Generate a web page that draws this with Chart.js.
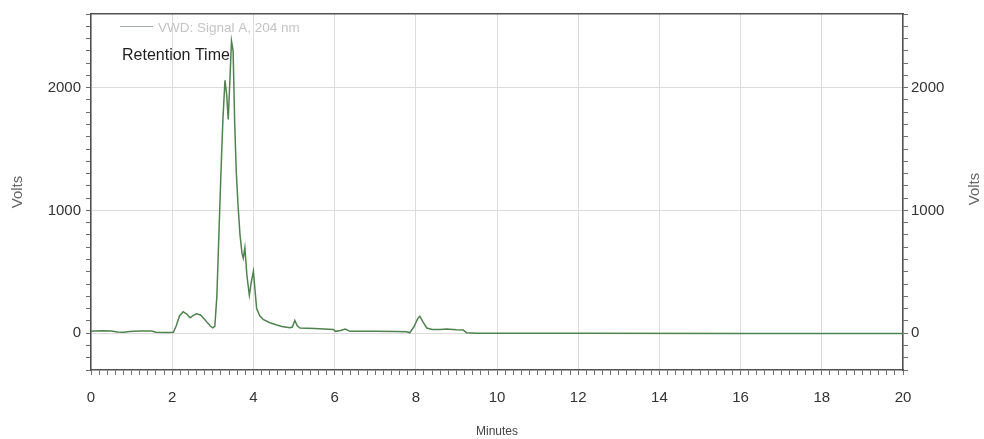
<!DOCTYPE html>
<html>
<head>
<meta charset="utf-8">
<script src="https://cdn.jsdelivr.net/npm/chart.js@4.4.1/dist/chart.umd.min.js"></script>
<style>
html, body { margin: 0; padding: 0; background: #fff; }
canvas { display: block; }
</style>
</head>
<body>
<canvas id="chromChart" width="984" height="439"></canvas>
<script>
// retention time (min) and detector signal
var minutes = [0, 0.1, 0.3, 0.5, 0.65, 0.8, 0.95, 1.2, 1.5, 1.6,
  1.9, 2.03, 2.1, 2.18, 2.27, 2.35, 2.44, 2.52, 2.6, 2.7,
  2.8, 2.87, 2.94, 3.0, 3.05, 3.1, 3.15, 3.2, 3.25, 3.3,
  3.34, 3.38, 3.42, 3.46, 3.5, 3.54, 3.58, 3.62, 3.67, 3.72,
  3.75, 3.79, 3.84, 3.9, 3.95, 4.0, 4.04, 4.08, 4.16, 4.25,
  4.41, 4.56, 4.7, 4.9, 4.96, 5.02, 5.08, 5.15, 5.5, 5.97,
  6.02, 6.15, 6.26, 6.38, 7.0, 7.5, 7.78, 7.85, 7.95, 8.05,
  8.1, 8.18, 8.27, 8.4, 8.6, 8.76, 9.0, 9.17, 9.25, 9.5,
  12, 16, 20]
var volts = [15, 18, 20, 18, 10, 8, 14, 18, 17, 8,
  5, 8, 60, 140, 175, 158, 125, 145, 157, 148,
  112, 84, 58, 44, 55, 300, 800, 1300, 1750, 2060,
  1950, 1740, 2050, 2380, 2300, 1700, 1300, 1050, 800, 650,
  610, 697, 470, 309, 420, 505, 350, 200, 140, 110,
  85, 68, 55, 45, 50, 103, 60, 42, 38, 30,
  15, 22, 34, 15, 15, 14, 12, 3, 50, 120,
  138, 90, 42, 30, 30, 34, 28, 25, 3, 0,
  0, -2, -3]
var xTickLabels = [0, 2, 4, 6, 8, 10, 12, 14, 16, 18, 20]
var yTickLabels = [0, 1000, 2000]
var seriesLabel = "VWD: Signal A, 204 nm"
var noteText = "Retention Time"

var fontFamily = "'Liberation Sans', Arial, sans-serif"
var axisColor = "#505050"
var gridColor = "#dcdcdc"
var tickMarkColor = "#707070"

// legend, note and right axis title (reads bottom-to-top like the left one)
var chromLabels = {
  id: "chromLabels",
  afterDraw: function (chart) {
    var c = chart.ctx
    var area = chart.chartArea
    c.save()
    c.strokeStyle = "#a4aaa4"
    c.lineWidth = 1
    c.beginPath()
    c.moveTo(area.left + 29, 26.5)
    c.lineTo(area.left + 62, 26.5)
    c.stroke()
    c.textAlign = "left"
    c.textBaseline = "alphabetic"
    c.font = "13.5px " + fontFamily
    c.fillStyle = "#c4c4c4"
    c.fillText(seriesLabel, area.left + 67, 32)
    c.font = "16px " + fontFamily
    c.fillStyle = "#1e1e1e"
    c.fillText(noteText, area.left + 31, 60)
    c.translate(975, 189)
    c.rotate(-Math.PI / 2)
    c.textAlign = "center"
    c.textBaseline = "middle"
    c.font = "15px " + fontFamily
    c.fillStyle = "#666"
    c.fillText("Volts", 0, 0)
    c.restore()
  },
}

function yGrid(ctx) {
  return ctx.tick && yTickLabels.indexOf(ctx.tick.value) >= 0 ? gridColor : "transparent"
}
function xGrid(ctx) {
  return ctx.tick && xTickLabels.indexOf(ctx.tick.value) >= 0 ? gridColor : "transparent"
}
function yLabel(v) {
  return yTickLabels.indexOf(v) >= 0 ? String(v) : ""
}

var points = minutes.map(function (m, i) {
  return { x: m, y: volts[i] }
})

var ctx = document.getElementById("chromChart")
var chart = new Chart(ctx, {
  type: "line",
  plugins: [chromLabels],
  data: {
    datasets: [
      {
        label: seriesLabel,
        data: points,
        borderColor: "#4f824f",
        borderWidth: 1.5,
        pointRadius: 0,
        tension: 0,
        fill: false,
      },
    ],
  },
  options: {
    responsive: false,
    animation: false,
    layout: { padding: 0 },
    plugins: {
      legend: { display: false },
      tooltip: { enabled: false },
    },
    scales: {
      x: {
        type: "linear",
        position: "bottom",
        min: 0,
        max: 20,
        ticks: {
          stepSize: 0.2,
          autoSkip: false,
          maxRotation: 0,
          minRotation: 0,
          padding: 14,
          color: "#333",
          font: { family: fontFamily, size: 15 },
          callback: function (v) {
            return xTickLabels.indexOf(v) >= 0 ? String(v) : ""
          },
        },
        grid: { color: xGrid, tickColor: tickMarkColor, tickLength: 5 },
        border: { color: axisColor, width: 1.5 },
        title: {
          display: true,
          text: "Minutes",
          color: "#444",
          font: { family: fontFamily, size: 12 },
          padding: { top: 0, bottom: 0 },
        },
        afterFit: function (s) {
          s.height = 69
        },
      },
      xTop: {
        type: "linear",
        position: "top",
        min: 0,
        max: 20,
        ticks: { display: false },
        grid: { display: false },
        border: { color: axisColor, width: 1.5 },
        afterFit: function (s) {
          s.height = 10
        },
      },
      y: {
        type: "linear",
        position: "left",
        min: -300,
        max: 2600,
        ticks: {
          stepSize: 100,
          autoSkip: false,
          padding: 5,
          color: "#333",
          font: { family: fontFamily, size: 15 },
          callback: yLabel,
        },
        grid: { color: yGrid, tickColor: tickMarkColor, tickLength: 5 },
        border: { color: axisColor, width: 1.5 },
        title: {
          display: true,
          text: "Volts",
          color: "#666",
          font: { family: fontFamily, size: 15 },
          padding: { top: 9, bottom: 0 },
        },
        afterFit: function (s) {
          s.width = 91
        },
      },
      y2: {
        type: "linear",
        position: "right",
        min: -300,
        max: 2600,
        ticks: {
          stepSize: 100,
          autoSkip: false,
          padding: 3,
          color: "#333",
          font: { family: fontFamily, size: 15 },
          callback: yLabel,
        },
        grid: { drawOnChartArea: false, tickColor: tickMarkColor, tickLength: 5 },
        border: { color: axisColor, width: 1.5 },
        afterFit: function (s) {
          s.width = 81
        },
      },
    },
  },
})
</script>
</body>
</html>
